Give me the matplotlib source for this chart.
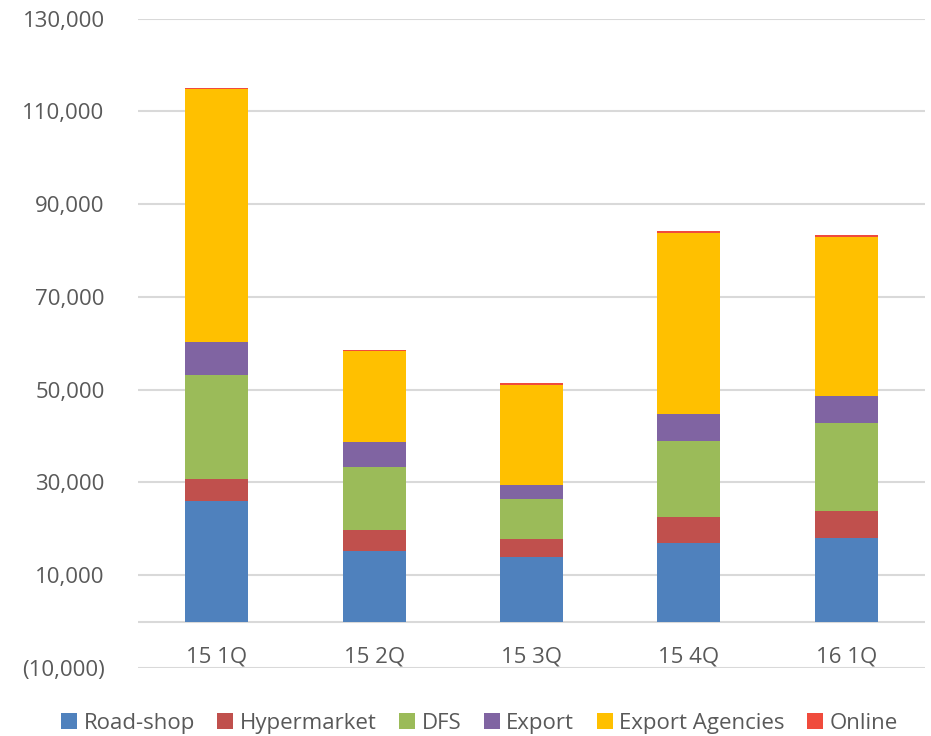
import matplotlib
matplotlib.use("Agg")
import matplotlib.pyplot as plt
from matplotlib.patches import Patch
from matplotlib.ticker import FuncFormatter
import numpy as np

# Quarterly sales by channel (KRW mn)
quarters = ["15 1Q", "15 2Q", "15 3Q", "15 4Q", "16 1Q"]
road_shop = [26000, 15300, 13900, 16900, 18000]
hypermarket = [4800, 4500, 3800, 5700, 5900]
dfs = [22300, 13500, 8800, 16400, 19000]
export = [7200, 5400, 3000, 5800, 5800]
export_agencies = [54500, 19600, 21500, 39000, 34100]
online = [200, 300, 400, 300, 500]

channels = ["Road-shop", "Hypermarket", "DFS", "Export", "Export Agencies", "Online"]
series = [road_shop, hypermarket, dfs, export, export_agencies, online]
colors = ["#4F81BD", "#C0504D", "#9BBB59", "#8064A2", "#FFC000", "#F04B3C"]

plt.rcParams["font.family"] = ["Open Sans", "DejaVu Sans"]
text_color = "#595959"
grid_color = "#D9D9D9"

fig = plt.figure(figsize=(9.31, 7.36), dpi=100)
ax = fig.add_axes([138 / 931, 1 - 668 / 736, (925 - 138) / 931, (668 - 18.5) / 736])

x = np.arange(len(quarters))
bottom = np.zeros(len(quarters))
for vals, color in zip(series, colors):
    ax.bar(x, vals, width=0.4, bottom=bottom, color=color, zorder=3)
    bottom += np.array(vals)

ax.set_xlim(-0.5, len(quarters) - 0.5)
ax.set_ylim(-10000, 130000)
ax.set_yticks(np.arange(-10000, 130001, 20000))
ax.yaxis.set_major_formatter(
    FuncFormatter(lambda v, _: f"({abs(v):,.0f})" if v < 0 else f"{v:,.0f}"))
ax.tick_params(axis="y", length=0, pad=24, labelsize=16, labelcolor=text_color)
ax.grid(axis="y", color=grid_color, linewidth=1.5, zorder=0)
ax.axhline(0, color=grid_color, linewidth=1.5, zorder=2)

# category labels sit just above the lowest gridline
ax.set_xticks([])
for xi, q in zip(x, quarters):
    ax.text(xi, -7600, q, ha="center", va="center", fontsize=16, color=text_color)

for side in ["top", "right", "left", "bottom"]:
    ax.spines[side].set_visible(False)

handles = [Patch(facecolor=c, edgecolor="none") for c in colors]
fig.legend(handles, channels, loc="lower center", bbox_to_anchor=(0.515, -0.024),
           ncol=6, frameon=False, fontsize=16, labelcolor=text_color,
           handlelength=0.72, handleheight=0.72, handletextpad=0.3, columnspacing=1.0)

fig.savefig("out.png", dpi=100)
